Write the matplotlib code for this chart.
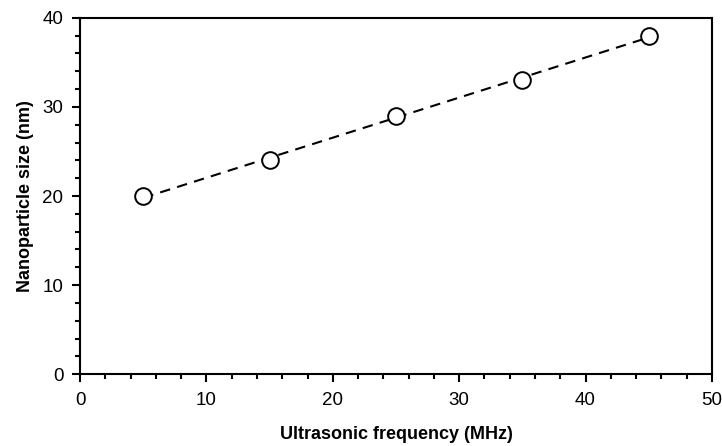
import matplotlib
matplotlib.use("Agg")
import matplotlib.pyplot as plt
import numpy as np
from matplotlib.ticker import MultipleLocator

plt.rcParams['font.family'] = ['Liberation Sans', 'DejaVu Sans']

freq = [5, 15, 25, 35, 45]
size = [20, 24, 29, 33, 38]
x_ticks = [0, 10, 20, 30, 40, 50]
y_ticks = [0, 10, 20, 30, 40]

fig = plt.figure(figsize=(7.22, 4.46), dpi=100)
ax = fig.add_axes([0.111, 0.161, 0.875, 0.799])

slope, intercept = np.polyfit(freq, size, 1)
xf = np.array([min(freq), max(freq)])
ax.plot(xf, slope * xf + intercept, color='black', lw=1.5, ls=(0, (5, 3.5)))
ax.plot(freq, size, 'o', mfc='white', mec='black', mew=1.4, ms=12, ls='none')

ax.set_xlim(0, 50)
ax.set_ylim(0, 40)
ax.set_xticks(x_ticks)
ax.set_yticks(y_ticks)
ax.xaxis.set_minor_locator(MultipleLocator(2))
ax.yaxis.set_minor_locator(MultipleLocator(2))
ax.tick_params(which='major', direction='out', length=6, width=1.5, labelsize=13.5, colors='black')
ax.tick_params(axis='x', which='major', pad=7)
ax.tick_params(axis='y', which='major', pad=6)
ax.tick_params(which='minor', direction='out', length=3.5, width=1.5)
ax.tick_params(top=False, right=False, which='both')
for s in ax.spines.values():
    s.set_linewidth(1.5)

ax.set_xlabel('Ultrasonic frequency (MHz)', fontsize=13, fontweight='bold', labelpad=12)
ax.set_ylabel('Nanoparticle size (nm)', fontsize=13, fontweight='bold', labelpad=6)

fig.savefig('out.png', dpi=100)
